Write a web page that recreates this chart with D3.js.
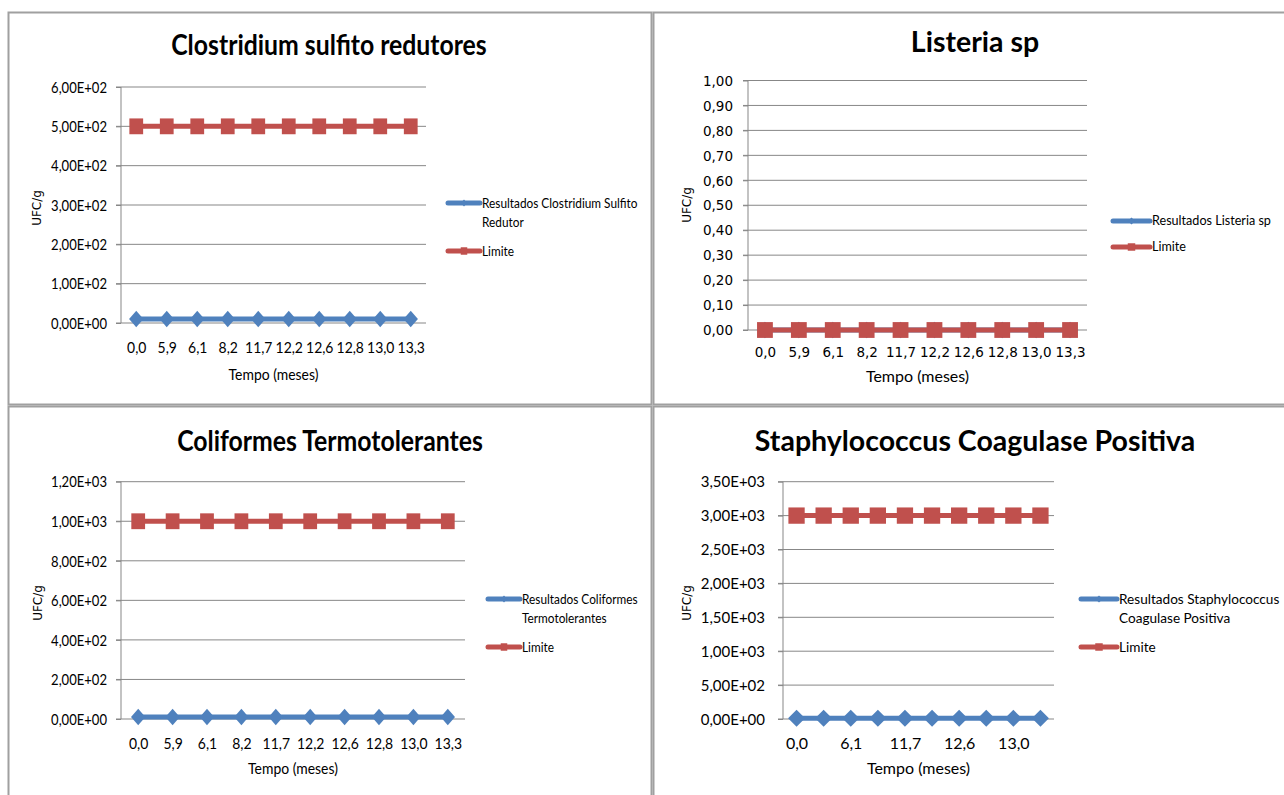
<!DOCTYPE html>
<html>
<head>
<meta charset="utf-8">
<script src="https://cdn.jsdelivr.net/npm/d3@7"></script>
<style>
  body { margin: 0; background: #fff; }
  svg { display: block; }
</style>
</head>
<body>
<svg id="chart" width="1284" height="795"></svg>
<script>
// Sampling times (months) shared by all four charts
const tempos = ["0,0", "5,9", "6,1", "8,2", "11,7", "12,2", "12,6", "12,8", "13,0", "13,3"];

// Clostridium sulfito redutores (UFC/g)
const clostridiumResultados = [10, 10, 10, 10, 10, 10, 10, 10, 10, 10];
const clostridiumLimite = [500, 500, 500, 500, 500, 500, 500, 500, 500, 500];
const clostridiumTicks = [0, 100, 200, 300, 400, 500, 600];
const clostridiumLegenda = [["Resultados Clostridium Sulfito", "Redutor"], ["Limite"]];

// Listeria sp (UFC/g)
const listeriaResultados = [0, 0, 0, 0, 0, 0, 0, 0, 0, 0];
const listeriaLimite = [0, 0, 0, 0, 0, 0, 0, 0, 0, 0];
const listeriaTicks = [0, 0.1, 0.2, 0.3, 0.4, 0.5, 0.6, 0.7, 0.8, 0.9, 1.0];
const listeriaLegenda = [["Resultados Listeria sp"], ["Limite"]];

// Coliformes termotolerantes (UFC/g)
const coliformesResultados = [10, 10, 10, 10, 10, 10, 10, 10, 10, 10];
const coliformesLimite = [1000, 1000, 1000, 1000, 1000, 1000, 1000, 1000, 1000, 1000];
const coliformesTicks = [0, 200, 400, 600, 800, 1000, 1200];
const coliformesLegenda = [["Resultados Coliformes", "Termotolerantes"], ["Limite"]];

// Staphylococcus coagulase positiva (UFC/g)
const staphResultados = [10, 10, 10, 10, 10, 10, 10, 10, 10, 10];
const staphLimite = [3000, 3000, 3000, 3000, 3000, 3000, 3000, 3000, 3000, 3000];
const staphTicks = [0, 500, 1000, 1500, 2000, 2500, 3000, 3500];
const staphLegenda = [["Resultados Staphylococcus", "Coagulase Positiva"], ["Limite"]];

const BLUE = "#4f81bd";
const RED = "#c0504d";
const GRID = "#878787";
const FRAME = "#a0a0a0";
const CAL = "Lato, 'Open Sans', sans-serif";
const VER = "'DejaVu Sans', Verdana, sans-serif";

// "6,00E+02" style scientific labels
function sci(v) {
  const [m, e] = v.toExponential(2).split("e");
  const ex = parseInt(e, 10);
  return m.replace(".", ",") + "E" + (ex < 0 ? "-" : "+") + String(Math.abs(ex)).padStart(2, "0");
}
function dec2(v) { return v.toFixed(2).replace(".", ","); }

const svg = d3.select("#chart");

// Horizontally condense text glyphs by factor k
function condense(sel, k) {
  if (k === 1) return;
  sel.each(function () {
    const w = this.getComputedTextLength();
    d3.select(this).attr("textLength", w * k).attr("lengthAdjust", "spacingAndGlyphs");
  });
}

const panels = [
  {
    title: "Clostridium sulfito redutores", results: clostridiumResultados, limit: clostridiumLimite,
    ticks: clostridiumTicks, fmt: sci, sx: 0.87,
    frame: { x: 8.5, y: 12.5, w: 643, h: 392 },
    plot: { x0: 121, x1: 426, yTop: 87, yBottom: 323 },
    titleX: 329, titleY: 55, xLabelY: 347, tempoY: 374, ufcX: 37, ufcY: 208,
    tickFont: CAL, tickSize: 15, xFont: CAL, xSize: 16, labelPad: 9, xEvery: 1, marker: 16.5,
    legend: { x0: 448, x1: 480, y: 203, y2: 251, size: 13.6, lines: clostridiumLegenda }
  },
  {
    title: "Listeria sp", results: listeriaResultados, limit: listeriaLimite,
    ticks: listeriaTicks, fmt: dec2, sx: 1,
    frame: { x: 653.5, y: 12.5, w: 640, h: 392 },
    plot: { x0: 748, x1: 1087, yTop: 80.5, yBottom: 330 },
    titleX: 975, titleY: 52, xLabelY: 352, tempoY: 376, ufcX: 687, ufcY: 205,
    tickFont: VER, tickSize: 13.5, xFont: VER, xSize: 13.5, labelPad: 10, xEvery: 1, marker: 16.5,
    legend: { x0: 1113, x1: 1150, y: 221, y2: 247, size: 12.6, lines: listeriaLegenda }
  },
  {
    title: "Coliformes Termotolerantes", results: coliformesResultados, limit: coliformesLimite,
    ticks: coliformesTicks, fmt: sci, sx: 0.87,
    frame: { x: 8.5, y: 406.5, w: 643, h: 400 },
    plot: { x0: 121, x1: 465, yTop: 481.7, yBottom: 719 },
    titleX: 330, titleY: 451, xLabelY: 743, tempoY: 768, ufcX: 38, ufcY: 603,
    tickFont: CAL, tickSize: 15, xFont: CAL, xSize: 16, labelPad: 9, xEvery: 1, marker: 16.5,
    legend: { x0: 488, x1: 520, y: 599, y2: 647, size: 13.6, lines: coliformesLegenda }
  },
  {
    title: "Staphylococcus Coagulase Positiva", results: staphResultados, limit: staphLimite,
    ticks: staphTicks, fmt: sci, sx: 1,
    frame: { x: 653.5, y: 406.5, w: 640, h: 400 },
    plot: { x0: 783, x1: 1054, yTop: 481.7, yBottom: 719 },
    titleX: 975, titleY: 451, xLabelY: 743, tempoY: 768, ufcX: 687, ufcY: 603,
    tickFont: CAL, tickSize: 15, xFont: CAL, xSize: 16, labelPad: 13, xEvery: 2, marker: 17,
    legend: { x0: 1081, x1: 1117, y: 599, y2: 647, size: 13.6, lines: staphLegenda }
  }
];

function drawPanel(p) {
  const g = svg.append("g");
  const P = p.plot;

  g.append("rect")
    .attr("x", p.frame.x).attr("y", p.frame.y)
    .attr("width", p.frame.w).attr("height", p.frame.h)
    .attr("fill", "#fff").attr("stroke", FRAME).attr("stroke-width", 2);

  const x = d3.scalePoint().domain(tempos).range([P.x0, P.x1]).padding(0.5);
  const yMax = p.ticks[p.ticks.length - 1];
  const y = d3.scaleLinear().domain([0, yMax]).range([P.yBottom, P.yTop]);

  // horizontal gridlines, running across the plot from the tick marks
  g.append("g").selectAll("line").data(p.ticks).join("line")
    .attr("x1", P.x0 - 5).attr("x2", P.x1)
    .attr("y1", d => y(d)).attr("y2", d => y(d))
    .attr("stroke", GRID).attr("stroke-width", 1);

  // vertical axis
  const yAxis = g.append("g").attr("transform", `translate(${P.x0},0)`)
    .call(d3.axisLeft(y).tickValues(p.ticks).tickFormat(p.fmt).tickSize(5).tickPadding(p.labelPad));
  yAxis.select(".domain").remove();
  yAxis.selectAll(".tick line").attr("stroke", GRID);
  yAxis.selectAll(".tick text")
    .attr("font-family", p.tickFont).attr("font-size", p.tickSize).attr("fill", "#000")
    .attr("dy", "0.35em");
  g.append("line")
    .attr("x1", P.x0).attr("x2", P.x0)
    .attr("y1", y(yMax)).attr("y2", y(0))
    .attr("stroke", GRID).attr("stroke-width", 1);

  // category axis labels
  const xAxis = g.append("g").attr("transform", `translate(0,${p.xLabelY})`)
    .call(d3.axisBottom(x).tickValues(tempos.filter((d, i) => i % p.xEvery === 0)).tickSize(0).tickPadding(0));
  xAxis.select(".domain").remove();
  xAxis.selectAll(".tick text")
    .attr("font-family", p.xFont).attr("font-size", p.xSize).attr("fill", "#000")
    .attr("y", 0).attr("dy", "0.35em");

  // series
  const line = d3.line().x((d, i) => x(tempos[i])).y(d => y(d));
  const diamond = d3.symbol(d3.symbolSquare, (p.marker * p.marker) / 2);
  const square = d3.symbol(d3.symbolSquare, p.marker * p.marker * 0.92);

  g.append("path").datum(p.results)
    .attr("d", line).attr("fill", "none").attr("stroke", BLUE).attr("stroke-width", 5);
  g.append("g").selectAll("path").data(p.results).join("path")
    .attr("d", diamond)
    .attr("transform", (d, i) => `translate(${x(tempos[i])},${y(d)}) scale(${p.sx},1) rotate(45)`)
    .attr("fill", BLUE);

  g.append("path").datum(p.limit)
    .attr("d", line).attr("fill", "none").attr("stroke", RED).attr("stroke-width", 5);
  g.append("g").selectAll("path").data(p.limit).join("path")
    .attr("d", square)
    .attr("transform", (d, i) => `translate(${x(tempos[i])},${y(d)}) scale(${p.sx},1)`)
    .attr("fill", RED);

  // titles
  const title = g.append("text")
    .attr("x", p.titleX).attr("y", p.titleY).attr("text-anchor", "middle")
    .attr("font-family", CAL).attr("font-weight", 700).attr("font-size", 28.5).attr("fill", "#000")
    .text(p.title);
  const tempo = g.append("text")
    .attr("x", (P.x0 + P.x1) / 2).attr("y", p.tempoY).attr("dy", "0.35em").attr("text-anchor", "middle")
    .attr("font-family", CAL).attr("font-size", 16).attr("fill", "#000")
    .text("Tempo (meses)");
  g.append("text")
    .attr("transform", `translate(${p.ufcX},${p.ufcY}) rotate(-90)`)
    .attr("dy", "0.35em").attr("text-anchor", "middle")
    .attr("font-family", VER).attr("font-size", 12).attr("fill", "#000")
    .text("UFC/g");

  // legend
  const L = p.legend;
  const lg = g.append("g");
  const entries = [
    { color: BLUE, y: L.y, lines: L.lines[0], sym: "diamond" },
    { color: RED, y: L.y2, lines: L.lines[1], sym: "square" }
  ];
  entries.forEach(e => {
    lg.append("line")
      .attr("x1", L.x0).attr("x2", L.x1).attr("y1", e.y).attr("y2", e.y)
      .attr("stroke", e.color).attr("stroke-width", 5).attr("stroke-linecap", "round");
    const s = e.sym === "diamond"
      ? d3.symbol(d3.symbolSquare, 26)
      : d3.symbol(d3.symbolSquare, 56);
    lg.append("path").attr("d", s)
      .attr("transform", `translate(${(L.x0 + L.x1) / 2},${e.y}) scale(${p.sx},1)` + (e.sym === "diamond" ? " rotate(45)" : ""))
      .attr("fill", e.color);
    e.lines.forEach((t, k) => {
      lg.append("text")
        .attr("x", L.x1 + 2).attr("y", e.y + k * 19).attr("dy", "0.35em")
        .attr("font-family", CAL).attr("font-size", L.size).attr("fill", "#000")
        .text(t);
    });
  });

  condense(yAxis.selectAll(".tick text"), p.sx);
  condense(xAxis.selectAll(".tick text"), p.sx);
  condense(title, p.sx);
  condense(tempo, p.sx);
  condense(lg.selectAll("text"), p.sx);
}

panels.forEach(drawPanel);
</script>
</body>
</html>
